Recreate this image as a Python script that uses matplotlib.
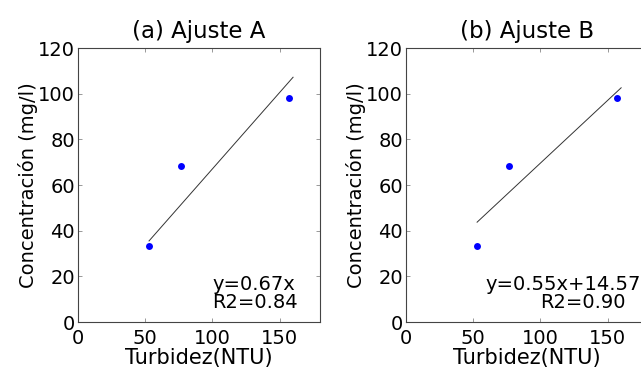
import matplotlib.pyplot as plt
import numpy as np

# datos medidos
turbidez = [53, 77, 157]
concentracion = [33.5, 68.3, 98.3]

# ajustes (pendiente, intercepto, R2)
titulos = ['(a) Ajuste A', '(b) Ajuste B']
pendientes = [0.67, 0.55]
interceptos = [0.0, 14.57]
ecuaciones = ['y=0.67x', 'y=0.55x+14.57']
r2_textos = ['R2=0.84', 'R2=0.90']
x_ajuste = [53, 160]

x_ticks = [0, 50, 100, 150]
y_ticks = [0, 20, 40, 60, 80, 100, 120]

fig = plt.figure(figsize=(6.41, 3.67), dpi=100)
posiciones = [[0.1212, 0.1226, 0.378, 0.7466],
              [0.633, 0.1226, 0.378, 0.7466]]
eq_x = [100, 59]

for i in range(2):
    ax = fig.add_axes(posiciones[i])
    xf = np.array(x_ajuste)
    ax.plot(xf, pendientes[i] * xf + interceptos[i], color='#333333',
            linewidth=0.7)
    ax.plot(turbidez, concentracion, 'o', color='#0000ff', markersize=5,
            markeredgewidth=0)
    ax.set_xlim(0, 180)
    ax.set_ylim(0, 120)
    ax.set_xticks(x_ticks)
    ax.set_yticks(y_ticks)
    ax.tick_params(direction='in', top=True, right=True, length=3,
                   width=0.6, color='#888888', labelsize=14, pad=2)
    ax.tick_params(axis='x', pad=5)
    for s in ax.spines.values():
        s.set_linewidth(0.8)
        s.set_color('#444444')
    ax.set_title(titulos[i], fontsize=16.5, pad=7)
    ax.set_xlabel('Turbidez(NTU)', fontsize=15, labelpad=0)
    ax.set_ylabel('Concentración (mg/l)', fontsize=14, labelpad=0)
    ax.text(eq_x[i], 16.5, ecuaciones[i], fontsize=14, va='center')
    ax.text(100, 8.5, r2_textos[i], fontsize=14, va='center')

plt.savefig('out.png', dpi=100)
plt.close('all')
